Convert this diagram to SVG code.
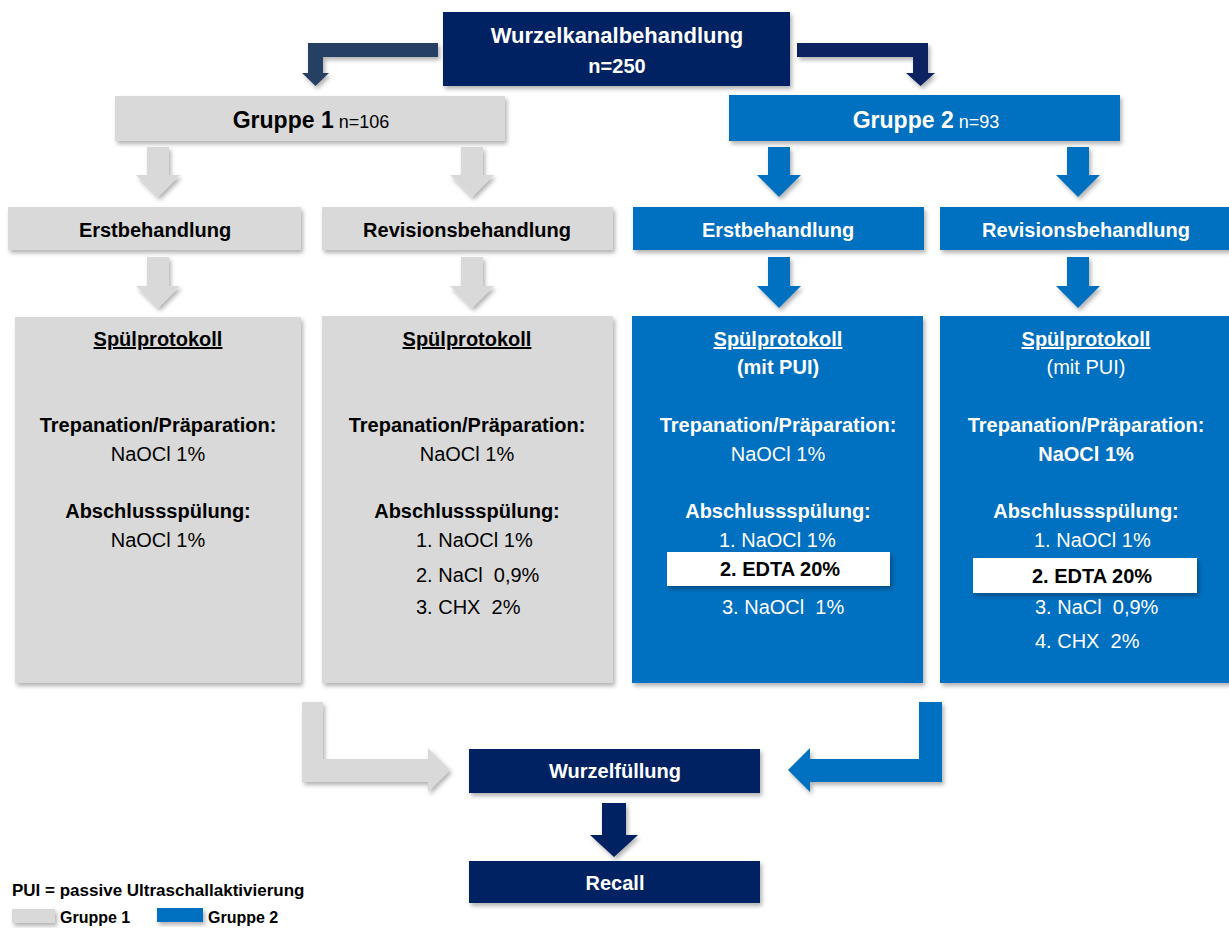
<svg xmlns="http://www.w3.org/2000/svg" width="1229" height="929" viewBox="0 0 1229 929">
<defs>
<filter id="sh" x="-10%" y="-10%" width="130%" height="140%">
<feDropShadow dx="2" dy="3" stdDeviation="2" flood-color="#000" flood-opacity="0.3"/>
</filter>
<style>
text{font-family:"Liberation Sans",Arial,sans-serif;}
.navy{fill:#042062;}
.gray{fill:#D9D9D9;}
.blue{fill:#0070C0;}
.w{fill:#FFFFFF;}
.k{fill:#000000;}
.b{font-weight:bold;}
.c{text-anchor:middle;}
.t20{font-size:20px;}
.u{text-decoration:underline;}
.pre{white-space:pre;}
</style>
</defs>
<rect width="1229" height="929" fill="#FFFFFF"/>

<g id="connectors" filter="url(#sh)">
<polygon fill="#263F63" points="438,43 308,43 308,73 302,73 315.5,86 329,73 323,73 323,57 438,57"/>
<polygon fill="#0A2360" points="797,43 928,43 928,73 935,73 920.5,86 906,73 913,73 913,57 797,57"/>
<polygon class="gray" points="147,147 169,147 169,175 180,175 158,197 136,175 147,175"/>
<polygon class="gray" points="461,147 483,147 483,175 494,175 472,197 450,175 461,175"/>
<polygon class="blue" points="768,147 790,147 790,175 801,175 779,197 757,175 768,175"/>
<polygon class="blue" points="1067,147 1089,147 1089,175 1100,175 1078,197 1056,175 1067,175"/>
<polygon class="gray" points="147,257 169,257 169,286 180,286 158,308 136,286 147,286"/>
<polygon class="gray" points="461,257 483,257 483,286 494,286 472,308 450,286 461,286"/>
<polygon class="blue" points="768,257 790,257 790,286 801,286 779,308 757,286 768,286"/>
<polygon class="blue" points="1067,257 1089,257 1089,286 1100,286 1078,308 1056,286 1067,286"/>
<polygon class="gray" points="302,702 323,702 323,759 428,759 428,748 450,770 428,792 428,782 302,782"/>
<polygon class="blue" points="942,702 919,702 919,759 810,759 810,748 788,770 810,792 810,782 942,782"/>
<polygon class="navy" points="602,803 626,803 626,835 638,835 614,857 590,835 602,835"/>
</g>

<g id="root">
<rect class="navy" x="443" y="12" width="347" height="74" filter="url(#sh)"/>
<text class="w b c" x="617" y="43" font-size="22">Wurzelkanalbehandlung</text>
<text class="w b c" x="617" y="73" font-size="20">n=250</text>
</g>

<g id="gruppe1">
<rect class="gray" x="115" y="96" width="390" height="45" filter="url(#sh)"/>
<text class="k c" x="311" y="128"><tspan class="b" font-size="23">Gruppe 1</tspan><tspan font-size="18"> n=106</tspan></text>
</g>

<g id="gruppe2">
<rect class="blue" x="729" y="95" width="391" height="46" filter="url(#sh)"/>
<text class="w c" x="926" y="128"><tspan class="b" font-size="23">Gruppe 2</tspan><tspan font-size="18"> n=93</tspan></text>
</g>

<g id="erst1">
<rect class="gray" x="8" y="207" width="293" height="43" filter="url(#sh)"/>
<text class="k b c t20" x="155" y="237">Erstbehandlung</text>
</g>
<g id="rev1">
<rect class="gray" x="322" y="207" width="291" height="43" filter="url(#sh)"/>
<text class="k b c t20" x="467" y="237">Revisionsbehandlung</text>
</g>
<g id="erst2">
<rect class="blue" x="633" y="207" width="291" height="43" filter="url(#sh)"/>
<text class="w b c t20" x="778" y="237">Erstbehandlung</text>
</g>
<g id="rev2">
<rect class="blue" x="940" y="207" width="295" height="43" filter="url(#sh)"/>
<text class="w b c t20" x="1086" y="237">Revisionsbehandlung</text>
</g>

<g id="protokoll1">
<rect class="gray" x="15" y="317" width="286" height="366" filter="url(#sh)"/>
<text class="k b c t20 u" x="158" y="346">Spülprotokoll</text>
<text class="k b c t20" x="158" y="432">Trepanation/Präparation:</text>
<text class="k c t20" x="158" y="461">NaOCl 1%</text>
<text class="k b c t20" x="158" y="518">Abschlussspülung:</text>
<text class="k c t20" x="158" y="547">NaOCl 1%</text>
</g>

<g id="protokoll2">
<rect class="gray" x="322" y="316" width="291" height="367" filter="url(#sh)"/>
<text class="k b c t20 u" x="467" y="346">Spülprotokoll</text>
<text class="k b c t20" x="467" y="432">Trepanation/Präparation:</text>
<text class="k c t20" x="467" y="461">NaOCl 1%</text>
<text class="k b c t20" x="467" y="518">Abschlussspülung:</text>
<text class="k t20 pre" x="416" y="547">1. NaOCl 1%</text>
<text class="k t20 pre" x="416" y="582">2. NaCl  0,9%</text>
<text class="k t20 pre" x="416" y="614">3. CHX  2%</text>
</g>

<g id="protokoll3">
<rect class="blue" x="632" y="316" width="291" height="367" filter="url(#sh)"/>
<text class="w b c t20 u" x="778" y="346">Spülprotokoll</text>
<text class="w b c t20" x="778" y="374">(mit PUI)</text>
<text class="w b c t20" x="778" y="432">Trepanation/Präparation:</text>
<text class="w c t20" x="778" y="461">NaOCl 1%</text>
<text class="w b c t20" x="778" y="518">Abschlussspülung:</text>
<text class="w t20 pre" x="719" y="547">1. NaOCl 1%</text>
<rect class="w" x="667" y="552" width="223" height="34" filter="url(#sh)"/>
<text class="k b t20 pre" x="720" y="576">2. EDTA 20%</text>
<text class="w t20 pre" x="722" y="614">3. NaOCl  1%</text>
</g>

<g id="protokoll4">
<rect class="blue" x="940" y="316" width="295" height="367" filter="url(#sh)"/>
<text class="w b c t20 u" x="1086" y="346">Spülprotokoll</text>
<text class="w c t20" x="1086" y="374">(mit PUI)</text>
<text class="w b c t20" x="1086" y="432">Trepanation/Präparation:</text>
<text class="w b c t20" x="1086" y="461">NaOCl 1%</text>
<text class="w b c t20" x="1086" y="518">Abschlussspülung:</text>
<text class="w t20 pre" x="1034" y="547">1. NaOCl 1%</text>
<rect class="w" x="973" y="558" width="224" height="35" filter="url(#sh)"/>
<text class="k b t20 pre" x="1032" y="583">2. EDTA 20%</text>
<text class="w t20 pre" x="1035" y="614">3. NaCl  0,9%</text>
<text class="w t20 pre" x="1035" y="648">4. CHX  2%</text>
</g>

<g id="wurzelfuellung">
<rect class="navy" x="469" y="749" width="291" height="44" filter="url(#sh)"/>
<text class="w b c t20" x="615" y="778">Wurzelfüllung</text>
</g>

<g id="recall">
<rect class="navy" x="469" y="861" width="291" height="42" filter="url(#sh)"/>
<text class="w b c t20" x="615" y="890">Recall</text>
</g>

<g id="legend">
<text class="k b" x="12" y="896" font-size="17">PUI = passive Ultraschallaktivierung</text>
<rect class="gray" x="12" y="909" width="43" height="14" filter="url(#sh)"/>
<text class="k b" x="60" y="923" font-size="16">Gruppe 1</text>
<rect class="blue" x="157" y="908" width="46" height="14" filter="url(#sh)"/>
<text class="k b" x="208" y="923" font-size="16">Gruppe 2</text>
</g>
</svg>
